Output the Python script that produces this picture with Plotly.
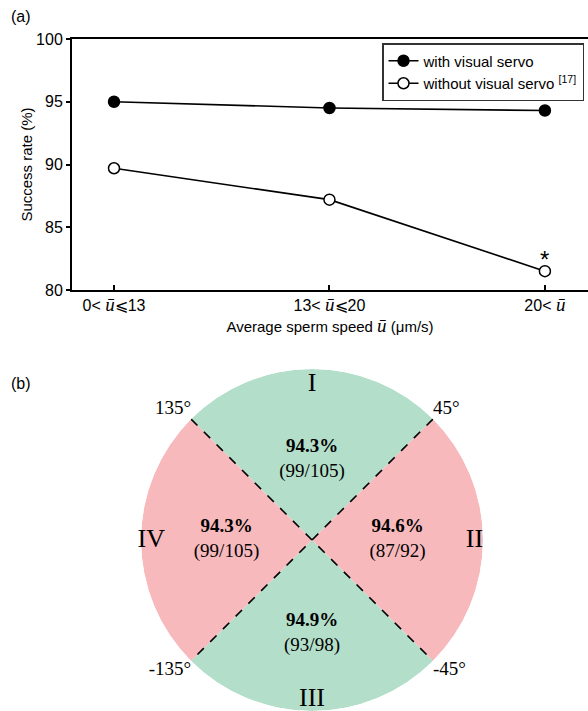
import plotly.graph_objects as go

SERIF = "Liberation Serif, Times New Roman, serif"
SANS = "Liberation Sans, Arial, sans-serif"

def ubar():
    return "<span style='font-family:Liberation Serif;font-size:19px'><i>ū</i></span>"

# ---- Data (a) ----
speed_labels = [f"0&lt; {ubar()}⩽13",
                f"13&lt; {ubar()}⩽20",
                f"20&lt; {ubar()}"]
speed_idx = [0, 1, 2]
with_servo = [95.0, 94.5, 94.3]
without_servo = [89.7, 87.2, 81.5]
y_ticks = [80, 85, 90, 95, 100]

# ---- Data (b) ----
sector_names = ["I", "II", "III", "IV"]
sector_theta = [90, 0, 270, 180]
sector_rates = ["94.3%", "94.6%", "94.9%", "94.3%"]
sector_counts = ["(99/105)", "(87/92)", "(93/98)", "(99/105)"]
boundary_angles = [45, 135, -135, -45]
boundary_labels = ["45°", "135°", "-135°", "-45°"]

GREEN = "#B3DEC9"
PINK = "#F7B9BC"

fig = go.Figure()

fig.add_trace(go.Scatter(
    x=speed_idx, y=with_servo, mode="lines+markers", name="with visual servo",
    line=dict(color="black", width=1.6),
    marker=dict(symbol="circle", size=11, color="black", line=dict(color="black", width=1.5)),
    xaxis="x", yaxis="y"))
fig.add_trace(go.Scatter(
    x=speed_idx, y=without_servo, mode="lines+markers",
    name="without visual servo <sup>[17]</sup>",
    line=dict(color="black", width=1.6),
    marker=dict(symbol="circle", size=11, color="white", line=dict(color="black", width=1.5)),
    xaxis="x", yaxis="y"))

# ---- polar panel ----
sector_colors = [GREEN if n in ("I", "III") else PINK for n in sector_names]
fig.add_trace(go.Barpolar(
    r=[1] * len(sector_theta), theta=sector_theta, width=[90] * len(sector_theta),
    marker=dict(color=sector_colors, line=dict(width=0)),
    showlegend=False, subplot="polar", hoverinfo="skip"))

for a in [45, 135]:
    fig.add_trace(go.Scatterpolar(
        r=[1, 0, 1], theta=[a, 0, a + 180], mode="lines",
        line=dict(color="black", width=1.6, dash="dash"),
        showlegend=False, subplot="polar", hoverinfo="skip"))

text_r = [0.47, 0.5, 0.55, 0.5]
fig.add_trace(go.Scatterpolar(
    r=text_r, theta=sector_theta, mode="text",
    text=[f"<b>{a}</b><br>{b}" for a, b in zip(sector_rates, sector_counts)],
    textfont=dict(family=SERIF, size=19, color="black"),
    showlegend=False, subplot="polar", hoverinfo="skip", cliponaxis=False))

numeral_r = [0.91, 0.95, 0.935, 0.94]
fig.add_trace(go.Scatterpolar(
    r=numeral_r, theta=sector_theta, mode="text", text=sector_names,
    textfont=dict(family=SERIF, size=26, color="black"),
    showlegend=False, subplot="polar", hoverinfo="skip", cliponaxis=False))

pos_map = {45: "top right", 135: "top left", -135: "bottom left", -45: "bottom right"}
fig.add_trace(go.Scatterpolar(
    r=[1] * len(boundary_angles), theta=boundary_angles, mode="text",
    text=boundary_labels, textposition=[pos_map[a] for a in boundary_angles],
    textfont=dict(family=SERIF, size=19, color="black"),
    showlegend=False, subplot="polar", hoverinfo="skip", cliponaxis=False))

fig.update_layout(
    width=588, height=711,
    margin=dict(l=0, r=0, t=0, b=0),
    paper_bgcolor="white", plot_bgcolor="white",
    font=dict(family=SANS, size=15, color="black"),
    xaxis=dict(domain=[72 / 588, 1.0], range=[-0.195, 2.2], automargin=False,
               tickvals=speed_idx, ticktext=speed_labels,
               showline=True, linecolor="black", linewidth=2, mirror=True,
               ticks="inside", ticklen=5, tickwidth=1.5, tickcolor="black",
               showgrid=False, zeroline=False,
               tickfont=dict(family=SANS, size=16),
               title=dict(text=f"Average sperm speed {ubar()} (μm/s)",
                          font=dict(family=SANS, size=15), standoff=7)),
    yaxis=dict(domain=[421 / 711, 672 / 711], range=[80, 100], automargin=False,
               tickvals=y_ticks, showline=True, linecolor="black", linewidth=2,
               ticks="outside", ticklen=4, tickwidth=1.5, tickcolor="black",
               showgrid=False, zeroline=False,
               tickfont=dict(family=SANS, size=16),
               title=dict(text="Success rate (%)", font=dict(family=SANS, size=15), standoff=0)),
    legend=dict(x=584 / 588, y=(711 - 43) / 711, xanchor="right", yanchor="top",
                bordercolor="#333333", borderwidth=1.5, bgcolor="white",
                font=dict(family=SANS, size=15), tracegroupgap=0,
                itemwidth=30),
    polar=dict(domain=dict(x=[141 / 588, 483 / 588], y=[0, 342 / 711]),
               bgcolor="rgba(0,0,0,0)", hole=0,
               radialaxis=dict(visible=False, range=[0, 1]),
               angularaxis=dict(visible=False, rotation=0, direction="counterclockwise"),
               bargap=0),
    annotations=[
        dict(text="(a)", x=9 / 588, y=1 - 17 / 711, xref="paper", yref="paper",
             xanchor="left", yanchor="middle", showarrow=False, font=dict(size=16)),
        dict(text="(b)", x=9 / 588, y=1 - 383 / 711, xref="paper", yref="paper",
             xanchor="left", yanchor="middle", showarrow=False, font=dict(size=16)),
        dict(text="*", x=speed_idx[2], y=without_servo[2], xref="x", yref="y",
             yshift=12, showarrow=False, font=dict(size=24)),
    ],
)

fig.write_html("out.html", config={"displayModeBar": False},
               post_script="document.body.style.margin='0';")
